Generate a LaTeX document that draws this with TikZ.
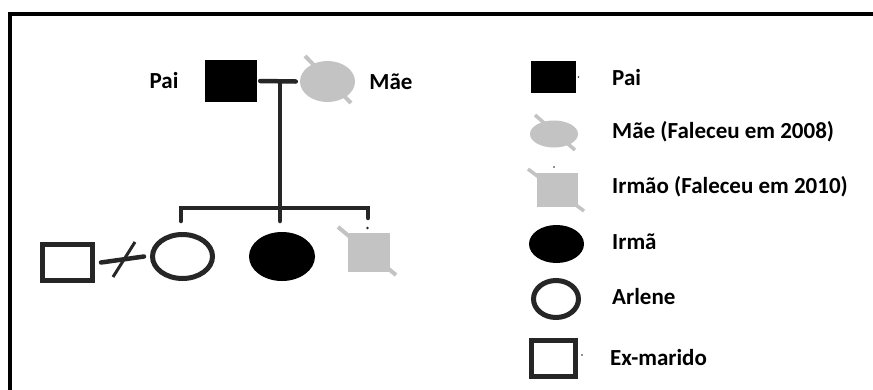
\documentclass[tikz,border=0pt]{standalone}
\usepackage{fontspec}
\setmainfont{Carlito}
\usetikzlibrary{shapes.geometric}
\definecolor{dead}{HTML}{C3C3C3}
\definecolor{ink}{HTML}{262626}
\tikzset{
  lbl/.style={font=\fontsize{23}{26}\selectfont\bfseries, text=black, inner sep=0pt},
  legl/.style={lbl, anchor=west},
  conn/.style={draw=ink, line width=4.5pt, line cap=round},
  blacksq/.style={rectangle, fill=black, draw=none, inner sep=0pt},
  blackell/.style={ellipse, fill=black, draw=none, inner sep=0pt},
  greyell/.style={ellipse, fill=dead, draw=none, inner sep=0pt},
  greysq/.style={rectangle, fill=dead, draw=none, inner sep=0pt},
  openell/.style={ellipse, draw=ink, line width=5pt, fill=white, inner sep=0pt},
  opensq/.style={rectangle, draw=ink, line width=5pt, fill=white, inner sep=0pt},
  deadmark/.style={draw=dead, line width=4pt},
  frameline/.style={draw=black, line width=4pt}
}
\begin{document}
\begin{tikzpicture}[x=1pt,y=-1pt]
\useasboundingbox (0,0) rectangle (873,389);
\clip (0,0) rectangle (873,389);
\fill[white] (0,0) rectangle (873,389);
% frame
\coordinate (fbl) at (10,400);
\coordinate (ftl) at (10,14);
\coordinate (ftr) at (880,14);
\draw[frameline] (fbl) -- (ftl) -- (ftr);

% parents
\node[blacksq, minimum width=52pt, minimum height=42pt] (pai) at (231,81) {};
\coordinate (mae1) at (305,56);
\coordinate (mae2) at (351,103);
\draw[deadmark] (mae1) -- (mae2);
\node[greyell, minimum width=55pt, minimum height=41pt] (mae) at (327.5,81.5) {};
\node[lbl] (tpai) at (164,81) {Pai};
\node[lbl] (tmae) at (391,82) {Mãe};

% children
\node[opensq, minimum width=50pt, minimum height=36pt] (ex) at (67.5,262.5) {};
\node[openell, minimum width=60pt, minimum height=44pt] (arlene) at (182.5,256.5) {};
\node[blackell, minimum width=66pt, minimum height=49pt] (irma) at (282,256.5) {};
\coordinate (irmao1) at (338,227);
\coordinate (irmao2) at (396,275);
\draw[deadmark] (irmao1) -- (irmao2);
\node[greysq, minimum width=42pt, minimum height=39pt] (irmao) at (369,252.5) {};

% connectors
\coordinate (m) at (280,81);
\coordinate (sib) at (280,208);
\coordinate (sibL) at (181,208);
\coordinate (sibR) at (368,208);
\coordinate (dA) at (181,221);
\coordinate (dI) at (280,221);
\coordinate (dR) at (368,218);
\draw[conn] ([xshift=3pt]pai.east) -- ([xshift=-4pt]mae.west);
\draw[conn, line cap=butt] (m) -- (sib);
\draw[conn] (dA) -- (sibL) -- (sibR) -- (dR);
\draw[conn] (sib) -- (dI);
\fill[ink] (367.5,228) circle (1.3pt);
% divorce
\coordinate (sl1) at (135,242);
\coordinate (sl2) at (113,277);
\draw[conn] ([xshift=6pt]ex.east) -- ([xshift=-6pt]arlene.west);
\draw[draw=ink, line width=3pt] (sl1) -- (sl2);

% legend
\node[blacksq, minimum width=45pt, minimum height=32pt] (lpai) at (553.5,77) {};
\fill[ink] (578.5,77) circle (0.8pt);
\node[legl] (tlpai) at (612,78) {Pai};

\coordinate (lm1) at (535,115);
\coordinate (lm2) at (575,150);
\draw[deadmark, line width=3.5pt] (lm1) -- (lm2);
\node[greyell, minimum width=48pt, minimum height=27pt] (lmae) at (554,134) {};
\node[legl] (tlmae) at (612,132) {Mãe (Faleceu em 2008)};

\coordinate (li1) at (528,169);
\coordinate (li2) at (584,211);
\draw[deadmark, line width=3.5pt] (li1) -- (li2);
\node[greysq, minimum width=41pt, minimum height=34pt] (lirmao) at (557.5,190) {};
\fill[ink] (554,167) circle (0.8pt);
\node[legl] (tlirmao) at (612,187) {Irmão (Faleceu em 2010)};

\node[blackell, minimum width=55pt, minimum height=38pt] (lirma) at (556.5,244) {};
\node[legl] (tlirma) at (612,242) {Irmã};

\node[openell, minimum width=45pt, minimum height=37pt] (larlene) at (556,299) {};
\node[legl] (tlarlene) at (612,297) {Arlene};

\node[opensq, minimum width=44pt, minimum height=36pt] (lex) at (553.5,358.5) {};
\fill[ink] (582,355) circle (0.8pt);
\node[legl] (tlex) at (610,358) {Ex-marido};
\end{tikzpicture}
\end{document}
